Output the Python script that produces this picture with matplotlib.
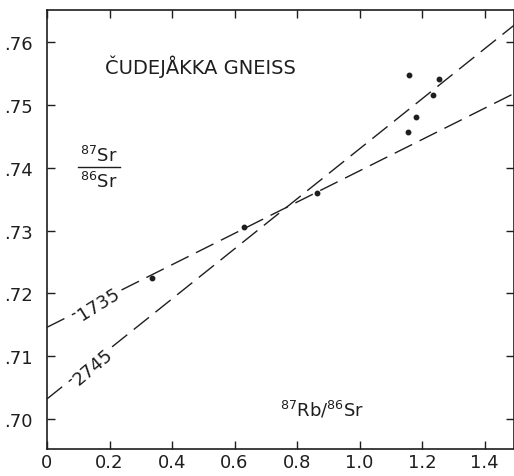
import numpy as np
import matplotlib
matplotlib.use("Agg")
import matplotlib.pyplot as plt

# Rb-Sr whole rock data
rb_sr = [0.336, 0.630, 0.864, 1.155, 1.158, 1.181, 1.235, 1.254]
sr_sr = [0.7225, 0.7306, 0.7359, 0.7456, 0.7547, 0.7481, 0.7516, 0.7541]

# reference isochrons: age label, initial ratio, slope
iso_ages = ["1735", "2745"]
iso_intercepts = [0.7146, 0.7032]
iso_slopes = [0.0249, 0.0398]

xticks = [0, 0.2, 0.4, 0.6, 0.8, 1.0, 1.2, 1.4]
xtick_labels = ["0", "0.2", "0.4", "0.6", "0.8", "1.0", "1.2", "1.4"]
yticks = [0.70, 0.71, 0.72, 0.73, 0.74, 0.75, 0.76]
ytick_labels = [".70", ".71", ".72", ".73", ".74", ".75", ".76"]

ink = "#1e1e1e"
plt.rcParams["font.family"] = ["DejaVu Sans"]

fig = plt.figure(figsize=(5.14, 4.77), dpi=100)
ax = fig.add_axes([47 / 514, 27 / 477, 467 / 514, 439 / 477])
ax.set_xlim(0, 1.494)
ax.set_ylim(0.69523, 0.76509)

x = np.array([0, 1.494])
for age, b, m in zip(iso_ages, iso_intercepts, iso_slopes):
    ax.plot(x, b + m * x, color=ink, lw=1.0, dashes=(14, 6), zorder=1)

ax.plot(rb_sr, sr_sr, "o", color=ink, ms=3.2, zorder=3)

# age labels sit in gaps of the dashed lines
ax.text(0.165, 0.7183, iso_ages[0], rotation=32,
        fontsize=13, color=ink, ha="center", va="center",
        bbox=dict(fc="white", ec="none", pad=1), zorder=2)
ax.text(0.148, 0.7083, iso_ages[1], rotation=40,
        fontsize=13, color=ink, ha="center", va="center",
        bbox=dict(fc="white", ec="none", pad=1), zorder=2)

ax.text(0.186, 0.7562, "ČUDEJÅKKA GNEISS", fontsize=14, color=ink,
        ha="left", va="center")

# y label as a stacked fraction
ax.text(0.166, 0.7405, "$^{87}$Sr", fontsize=13, color=ink, ha="center", va="bottom")
ax.text(0.166, 0.7395, "$^{86}$Sr", fontsize=13, color=ink, ha="center", va="top")
ax.plot([0.099, 0.234], [0.7401, 0.7401], color=ink, lw=1.0)

ax.text(0.88, 0.7016, "$^{87}$Rb/$^{86}$Sr", fontsize=13, color=ink,
        ha="center", va="center")

ax.set_xticks(xticks)
ax.set_xticklabels(xtick_labels)
ax.set_yticks(yticks)
ax.set_yticklabels(ytick_labels)
ax.tick_params(direction="in", length=6, width=1, colors=ink, labelsize=13,
               top=True, right=True)
ax.tick_params(axis="x", pad=3)
ax.tick_params(axis="y", pad=10)
for s in ax.spines.values():
    s.set_color(ink)
    s.set_linewidth(1.2)

fig.savefig("out.png", dpi=100)
